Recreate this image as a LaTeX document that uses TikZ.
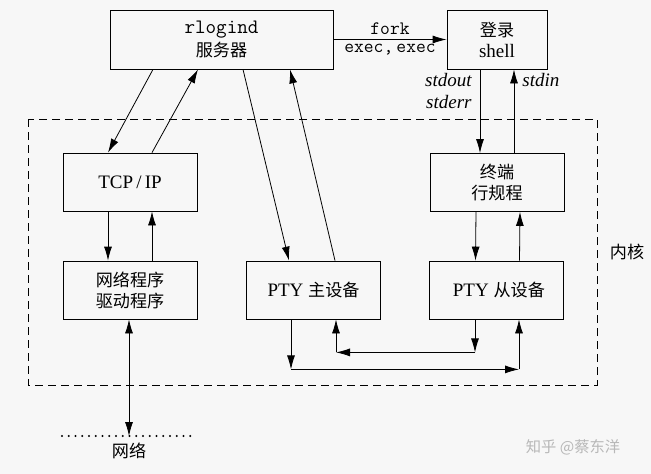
\documentclass[tikz,border=0pt]{standalone}
\usepackage{fontspec}
\setmainfont{Liberation Serif}
\newfontfamily\cjk[Scale=0.9]{Noto Sans CJK SC}
\usetikzlibrary{arrows.meta}
\begin{document}
\begin{tikzpicture}[x=1pt, y=-1pt, line width=0.8pt,
  font=\fontsize{19}{21}\selectfont,
  box/.style={draw, fill=black!3, minimum width=134pt, minimum height=58pt, inner sep=0pt, align=center},
  arr/.style={-{Latex[length=14pt,width=8pt]}},
  arrboth/.style={{Latex[length=14pt,width=8pt]}-{Latex[length=14pt,width=8pt]}},
  lbl/.style={inner sep=0pt, font=\fontsize{19}{21}\selectfont\itshape},
  code/.style={font=\fontsize{19}{21}\selectfont\ttfamily}]
\fill[black!3] (0,0) rectangle (651,474);
\useasboundingbox (0,0) rectangle (651,474);
\draw[dash pattern=on 8pt off 5pt] (28,119) rectangle (597,385);

\node[box, minimum width=223pt, minimum height=59pt] (rlog) at (221.5,39.5) {{\fontsize{20.5}{24}\selectfont\ttfamily rlogind}\\[2pt]\cjk 服务器};
\node[box, minimum width=100pt, minimum height=59pt] (shell) at (497,39.5) {\cjk 登录\\shell};
\node[box] (tcp) at (130,182) {TCP\,/\,IP};
\node[box] (drv) at (130,290) {\cjk 网络程序\\\cjk 驱动程序};
\node[box] (ptym) at (313.5,290) {PTY {\cjk 主设备}};
\node[box] (ptys) at (496.5,290) {\ PTY {\cjk 从设备}};
\node[box] (ldisc) at (497,182.5) {\cjk 终端\\\cjk 行规程};
\node (kern) at (627,252) {\cjk 内核};

\draw[arr] (rlog) -- (shell)
  node[code, midway, above=1pt] (fork) {fork}
  node[code, midway, below=1pt] (exec) {exec,\,exec};
\node[lbl, anchor=east] (sout) at (472,80) {stdout};
\node[lbl, anchor=east] (serr) at (472,102) {stderr};
\node[lbl, anchor=west] (sin) at (522,80) {stdin};

\draw[arr] ([xshift=-68.5pt]rlog.south) -- ([xshift=-22pt]tcp.north);
\draw[arr] ([xshift=22pt]tcp.north) -- ([xshift=-23.5pt]rlog.south);
\draw[arr] ([xshift=21.5pt]rlog.south) -- ([xshift=-24.5pt]ptym.north);
\draw[arr] ([xshift=21.5pt]ptym.north) -- ([xshift=68.5pt]rlog.south);
\draw[arr] ([xshift=-17pt]shell.south) -- ([xshift=-17pt]ldisc.north);
\draw[arr] ([xshift=17pt]ldisc.north) -- ([xshift=17pt]shell.south);
\draw[arr] ([xshift=-22pt]tcp.south) -- ([xshift=-22pt]drv.north);
\draw[arr] ([xshift=22pt]drv.north) -- ([xshift=22pt]tcp.south);
\draw[arr] ([xshift=-21pt]ldisc.south) -- ([xshift=-21pt]ptys.north);
\draw[arr] ([xshift=23pt]ptys.north) -- ([xshift=23pt]ldisc.south);

\coordinate (mL) at ([xshift=-22.5pt]ptym.south);
\coordinate (mR) at ([xshift=22.5pt]ptym.south);
\coordinate (sL) at ([xshift=-21.5pt]ptys.south);
\coordinate (sR) at ([xshift=22.5pt]ptys.south);
\coordinate (lowA) at ([yshift=-50pt]mL);
\coordinate (lowB) at ([yshift=-50pt]sR);
\coordinate (upA) at ([yshift=-33pt]sL);
\coordinate (upB) at ([yshift=-33pt]mR);
\draw[arr] (mL) -- (lowA);
\draw[arr] (lowA) -- (lowB);
\draw[arr] (lowB) -- (sR);
\draw[arr] (sL) -- (upA);
\draw[arr] (upA) -- (upB);
\draw[arr] (upB) -- (mR);

\coordinate (net) at (129,436);
\draw[line width=2.4pt, line cap=round, dash pattern=on 0pt off 6.75pt] (62,436) -- (197,436);
\draw[arrboth] (drv.south -| net) -- (net);
\node (netlbl) at (129,451) {\cjk 网络};

\node[text=black!28] (wm) at (573,447) {\cjk\fontsize{17}{17}\selectfont 知乎 @蔡东洋};
\end{tikzpicture}
\end{document}
